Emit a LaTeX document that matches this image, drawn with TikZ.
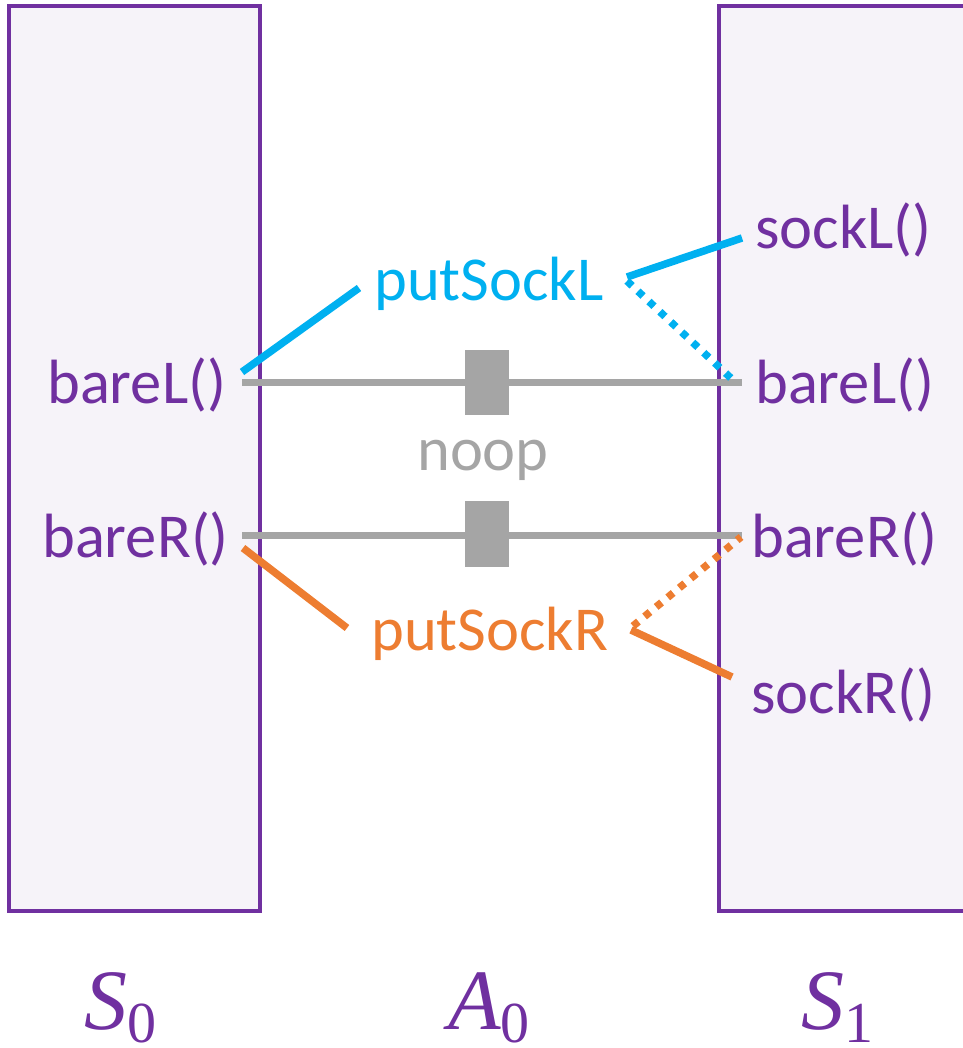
\documentclass[tikz,border=0pt]{standalone}
\usepackage{fontspec}
\setmainfont{Carlito}
\newfontfamily\mathlike{Liberation Serif}
\definecolor{vio}{HTML}{7030A0}
\definecolor{sky}{HTML}{00B0F0}
\definecolor{ora}{HTML}{ED7D31}
\definecolor{gry}{HTML}{A5A5A5}
\definecolor{boxfill}{HTML}{F6F3F9}
\tikzset{
  state/.style={draw=vio, line width=4.5pt, fill=boxfill},
  lbl/.style={anchor=base west, inner sep=0pt, font=\fontsize{62.5}{70}\selectfont},
  fn/.style={lbl, text=vio},
  mlbl/.style={anchor=base west, inner sep=0pt, text=vio},
  noopline/.style={draw=gry, line width=7pt},
  noopbox/.style={fill=gry},
  blueline/.style={draw=sky, line width=7.5pt},
  orangeline/.style={draw=ora, line width=7.5pt},
  dotline/.style={dash pattern=on 7pt off 8pt}
}
\newcommand{\msym}[2]{{\mathlike\fontsize{86}{90}\selectfont\itshape #1}{\mathlike\fontsize{58}{60}\selectfont\raisebox{-13pt}{#2}}}
\begin{document}
\begin{tikzpicture}[x=1pt,y=-1pt]
\useasboundingbox (0,0) rectangle (962,1048);
% state boxes
\draw[state] (9,6) rectangle (260,911);
\draw[state] (719,6) rectangle (975,911);
% labels left
\node[fn] (lbareL) at (47,403) {bareL()};
\node[fn] (lbareR) at (42,557) {bareR()};
% labels right
\node[fn] (rsockL) at (755,249) {sockL()};
\node[fn] (rbareL) at (755,403) {bareL()};
\node[fn] (rbareR) at (751,557) {bareR()};
\node[fn] (rsockR) at (751,713) {sockR()};
% actions
\node[lbl, text=sky] (psl) at (374,300) {putSockL};
\node[lbl, text=ora] (psr) at (371,650) {putSockR};
\node[lbl, text=gry] (noop) at (417,470) {noop};
% connector endpoints
\coordinate (a1) at (242,382);
\coordinate (a2) at (742,382);
\coordinate (b1) at (242,535);
\coordinate (b2) at (742,535);
\coordinate (bl1) at (242,372);
\coordinate (bl2) at (359,288);
\coordinate (bl3) at (627,277);
\coordinate (bl4) at (742,238);
\coordinate (bl5) at (627,281);
\coordinate (bl6) at (734,381);
\coordinate (or1) at (243,548);
\coordinate (or2) at (347,628);
\coordinate (or3) at (631,630);
\coordinate (or4) at (732,677);
\coordinate (or5) at (633,626);
\coordinate (or6) at (741,537);
% noop lines
\draw[noopline] (a1) -- (a2);
\draw[noopline] (b1) -- (b2);
\node[noopbox, minimum width=44pt, minimum height=65pt, inner sep=0pt] (sq1) at (487,382) {};
\node[noopbox, minimum width=44pt, minimum height=66pt, inner sep=0pt] (sq2) at (487,534) {};
% blue
\draw[blueline] (bl1) -- (bl2);
\draw[blueline] (bl3) -- (bl4);
\draw[blueline, dotline] (bl5) -- (bl6);
% orange
\draw[orangeline] (or1) -- (or2);
\draw[orangeline] (or3) -- (or4);
\draw[orangeline, dotline] (or5) -- (or6);
% bottom labels
\node[mlbl] (s0) at (84,1029) {\msym{S}{0}};
\node[mlbl] (a0) at (448,1029) {\msym{A}{0}};
\node[mlbl] (s1) at (801,1029) {\msym{S}{1}};
\end{tikzpicture}
\end{document}
